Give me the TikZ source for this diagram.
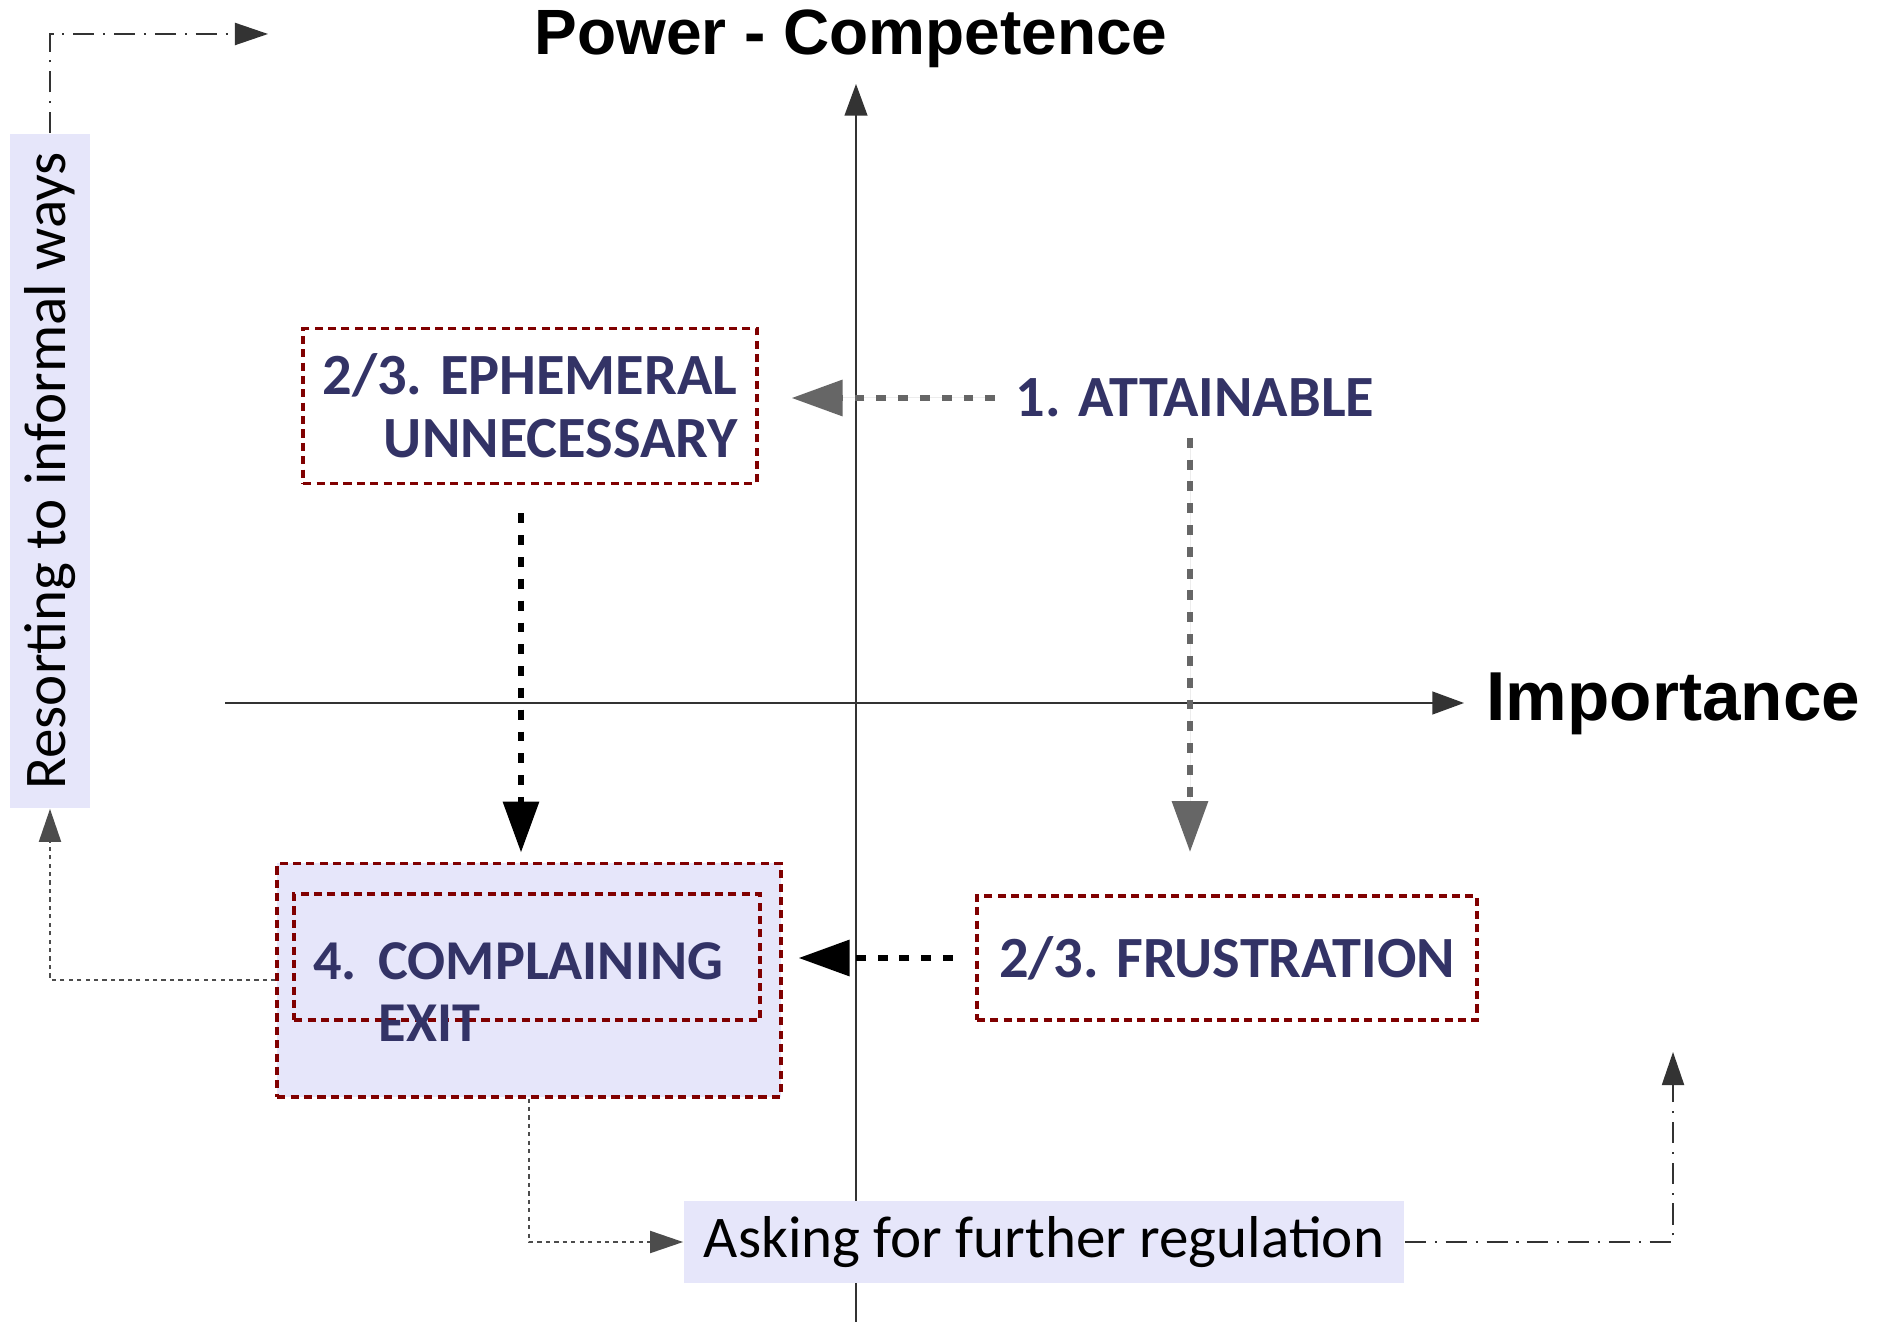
\documentclass[tikz,border=0pt]{standalone}
\usepackage{fontspec}
\setmainfont{Carlito}
\newfontfamily\axisfont{Liberation Sans}
\usetikzlibrary{arrows.meta,calc}

\definecolor{stagenavy}{HTML}{333366}
\definecolor{stagered}{HTML}{800000}
\definecolor{notelav}{HTML}{E6E6FA}
\definecolor{flowgray}{HTML}{666666}

\tikzset{
  stagebox/.style={draw=stagered, line width=1.1pt, dash pattern=on 2.3pt off 1.5pt, inner sep=0pt},
  stagetext/.style={text=stagenavy, font=\bfseries\fontsize{16.6}{17.8}\selectfont, inner sep=0pt},
  notebox/.style={fill=notelav, inner sep=0pt, font=\fontsize{16.8}{19}\selectfont},
  axislabel/.style={inner sep=0pt, font=\axisfont\bfseries},
  axisline/.style={line width=0.45pt, draw=black!80, -{Triangle[length=9pt,width=6.5pt]}},
  bigflow/.style={line width=1.7pt, dash pattern=on 2.8pt off 3.4pt, -{Triangle[length=14.5pt,width=10pt]}},
  thinlink/.style={line width=0.45pt, draw=black!70, dash pattern=on 1.2pt off 1.2pt, -{Triangle[length=9.4pt,width=6.3pt]}},
  dashdotlink/.style={line width=0.45pt, draw=black!80, dash pattern=on 6pt off 2.5pt on 0.6pt off 2.5pt, -{Triangle[length=9.4pt,width=6.3pt]}},
}

\begin{document}
\begin{tikzpicture}[x=0.01cm, y=-0.01cm]
  \useasboundingbox (0,0) rectangle (1879,1322);

  % axes
  \coordinate (xfrom) at (225,703);
  \coordinate (xto) at (1464,703);
  \coordinate (yfrom) at (856,1322);
  \coordinate (yto) at (856,84);
  \draw[axisline] (xfrom) -- (xto);
  \draw[axisline] (yfrom) -- (yto);
  \node[axislabel, anchor=base, font=\axisfont\bfseries\fontsize{18.2}{20}\selectfont] (power) at (851,55) {Power - Competence};
  \node[axislabel, anchor=base west, font=\axisfont\bfseries\fontsize{19.7}{21}\selectfont] (importance) at (1486,720) {Importance};

  % stages
  \node[stagebox, stagetext, align=right, minimum width=4.53cm, minimum height=1.55cm] (ephemeral) at (530,406) {2/3. EPHEMERAL\\UNNECESSARY};
  \node[stagetext, inner sep=0.2cm] (attainable) at (1195,398) {1. ATTAINABLE};
  \node[stagebox, stagetext, minimum width=5cm, minimum height=1.24cm] (frustration) at (1227,958) {2/3. FRUSTRATION};
  \node[stagebox, fill=notelav, minimum width=5.03cm, minimum height=2.33cm] (exitbox) at (529,980) {};
  \node[stagebox, minimum width=4.65cm, minimum height=1.26cm] (exitinner) at (527,957) {};
  \node[stagetext, align=left, font=\bfseries\fontsize{16}{17.8}\selectfont] (complaining) at (518,992) {4.\hspace{0.39em}COMPLAINING\\\hphantom{4.}\hspace{0.39em}EXIT};

  % notes
  \node[notebox, minimum width=7.2cm, minimum height=0.81cm] (asking) at (1044,1242) {Asking for further regulation};
  \node[notebox, rotate=90, minimum width=6.74cm, minimum height=0.79cm] (resorting) at (50,471) {Resorting to informal ways};

  % flows
  \draw[bigflow, draw=flowgray, fill=flowgray, shorten >=0.33cm] (attainable.west) -- (attainable.west -| ephemeral.east);
  \draw[bigflow, draw=flowgray, fill=flowgray, shorten >=0.42cm] ([xshift=-0.05cm]attainable.south) -- ([xshift=-0.05cm]attainable.south |- frustration.north);
  \draw[bigflow, shorten <=0.28cm, shorten >=0.09cm] ([xshift=-0.09cm]ephemeral.south) -- ([xshift=-0.09cm]ephemeral.south |- exitbox.north);
  \draw[bigflow, shorten <=0.22cm, shorten >=0.16cm] (frustration.west) -- (frustration.west -| exitbox.east);

  \draw[thinlink] (exitbox.west) -| (resorting.west);
  \draw[thinlink] (exitbox.south) |- (asking.west);
  \coordinate (informaltip) at (268,34);
  \coordinate (regulationtip) at (1673,1052);
  \draw[dashdotlink] (resorting.east) |- (informaltip);
  \draw[dashdotlink] (asking.east) -| (regulationtip);
\end{tikzpicture}
\end{document}
